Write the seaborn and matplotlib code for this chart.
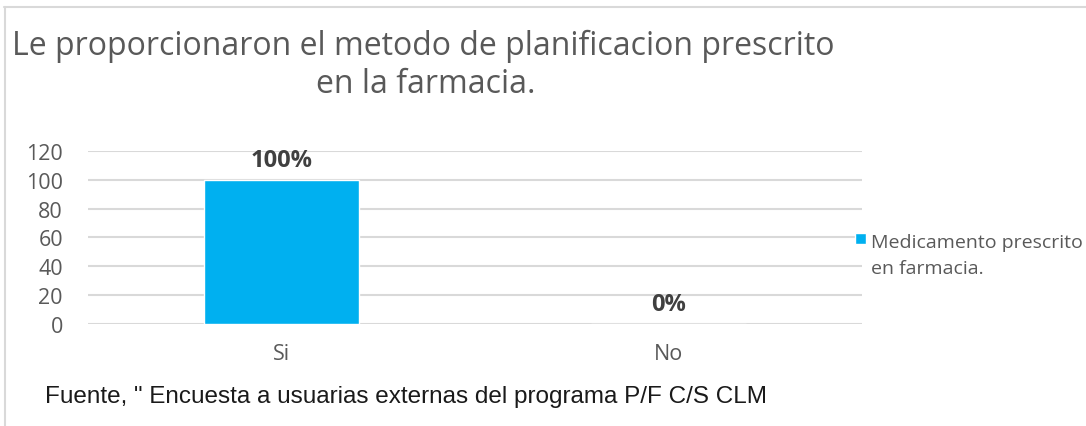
import matplotlib
matplotlib.use("Agg")
import matplotlib.pyplot as plt
import seaborn as sns
from matplotlib.lines import Line2D

# data
categorias = ["Si", "No"]
valores = [100, 0]
etiquetas = ["100%", "0%"]
serie = "Medicamento prescrito\nen farmacia."
titulo_1 = "Le proporcionaron el metodo de planificacion prescrito"
titulo_2 = "en la farmacia."
fuente = 'Fuente, " Encuesta a usuarias externas del programa P/F C/S CLM'
y_ticks = [0, 20, 40, 60, 80, 100, 120]

sns.set_theme(style="white")
plt.rcParams["font.family"] = ["Open Sans", "DejaVu Sans"]

gris = "#595959"
azul = "#00B0F0"

fig = plt.figure(figsize=(10.86, 4.27), dpi=100)
ax = fig.add_axes([0.081, 0.239, 0.713, 0.405])

sns.barplot(x=categorias, y=valores, color=azul, width=0.4, ax=ax,
            saturation=1, label=serie)

ax.set_ylim(0, 120)
ax.set_xlim(-0.5, 1.5)
ax.set_yticks(y_ticks)
ax.yaxis.grid(True, color="#d9d9d9", linewidth=1.5)
ax.set_axisbelow(True)
for s in ax.spines.values():
    s.set_visible(False)
ax.tick_params(axis="both", length=0, labelsize=15.5, labelcolor=gris)
ax.tick_params(axis="y", pad=18)
ax.tick_params(axis="x", pad=14)
ax.set_xlabel("")
ax.set_ylabel("")

# data labels
for i, (v, t) in enumerate(zip(valores, etiquetas)):
    ax.annotate(t, (i, v), xytext=(0, 6), textcoords="offset points",
                ha="center", va="bottom", fontsize=17, fontweight="bold",
                color="#404040")

leg = ax.legend(loc="center left", bbox_to_anchor=(0.98, 0.40), frameon=False,
                fontsize=14, handlelength=0.57, handleheight=0.5,
                handletextpad=0.25, labelcolor=gris, borderaxespad=0)
for t in leg.get_texts():
    t.set_linespacing(1.6)
# square next to the first line, like the original
for col in leg._legend_handle_box.get_children():
    for row in col.get_children():
        row.align = "top"

# titles and source
fig.text(0.011, 0.892, titulo_1, fontsize=23, color=gris, ha="left", va="center")
fig.text(0.392, 0.802, titulo_2, fontsize=23, color=gris, ha="center", va="center")
fig.text(0.041, 0.07, fuente, fontsize=17.5, color="#1a1a1a", ha="left",
         va="center", family=["Liberation Sans"])

# frame lines of the original picture
fig.add_artist(Line2D([0.004, 1.0], [0.981, 0.981], color="#d9d9d9", linewidth=1.5))
fig.add_artist(Line2D([0.005, 0.005], [0.0, 0.981], color="#d9d9d9", linewidth=1.5))

fig.savefig("out.png", dpi=100)
